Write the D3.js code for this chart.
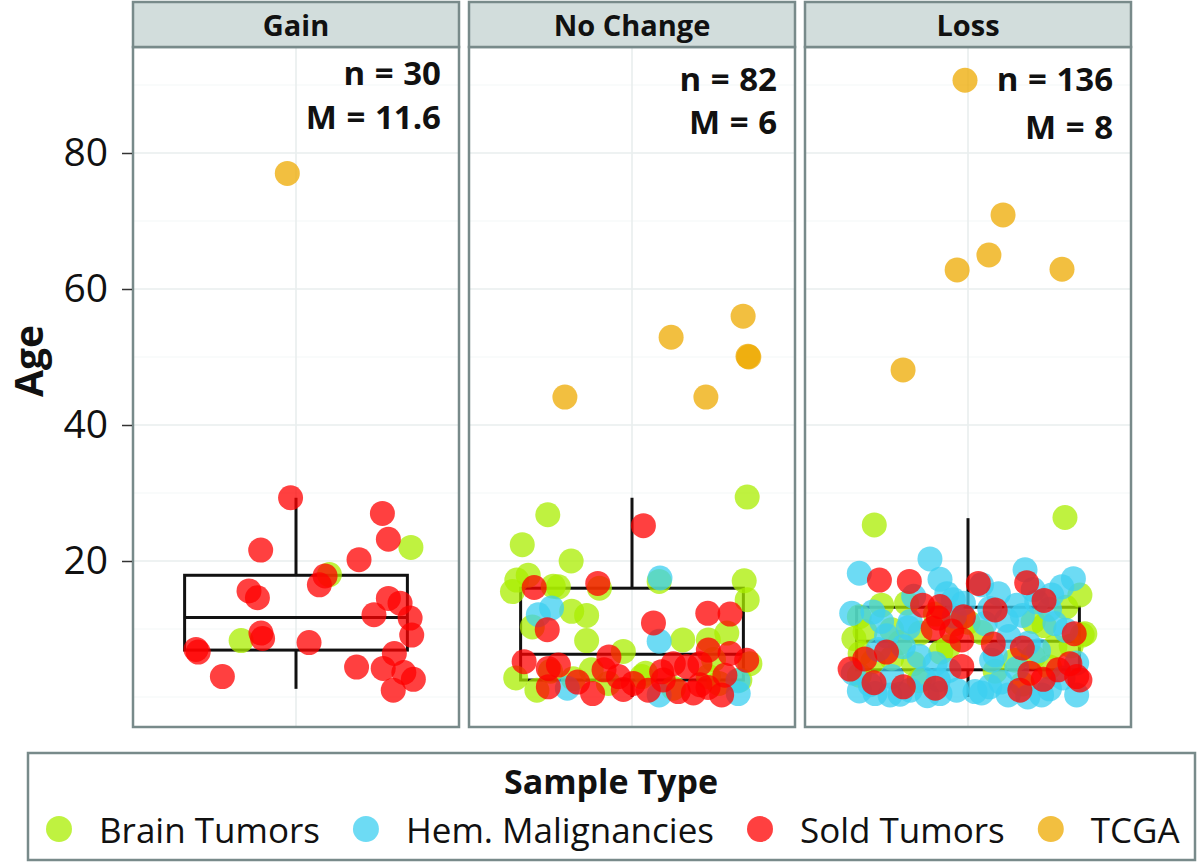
<!DOCTYPE html>
<html>
<head>
<meta charset="utf-8">
<script src="https://cdn.jsdelivr.net/npm/d3@7"></script>
<style>
  html, body { margin: 0; padding: 0; background: #ffffff; }
  svg { display: block; font-family: "Open Sans", "Noto Sans", sans-serif; }
</style>
</head>
<body>
<svg id="chart" width="1200" height="865"></svg>
<script>
// ---------------- DATA ----------------
const panels = ["Gain", "No Change", "Loss"];
const sampleTypes = ["Brain Tumors", "Hem. Malignancies", "Sold Tumors", "TCGA"];
const typeColors = ["#aaee00", "#3ccff0", "#ff0000", "#eeaa00"];
const yTicks = [20, 40, 60, 80];
const yMinor = [0, 10, 30, 50, 70, 90];
const nLabels = ["n = 30", "n = 82", "n = 136"];
const mLabels = ["M = 11.6", "M = 6", "M = 8"];

// box statistics per panel (Age)
const boxLower = [1.2, 0, 0];
const boxQ1 = [6.9, 2.5, 4.0];
const boxMedian = [11.7, 6.3, 8.2];
const boxQ3 = [17.9, 16.0, 13.2];
const boxUpper = [29.3, 29.3, 26.3];

// points: [age, jitter]
const gainBrain = [[22.0,0.423],[18.0,0.123],[8.3,-0.202]];
const gainHem = [];
const gainSolid = [[29.3,-0.02],[27.0,0.318],[23.2,0.34],[21.6,-0.13],[20.2,0.232],[17.8,0.107],[16.5,0.086],[15.6,-0.173],[14.6,-0.142],[14.5,0.34],[13.8,0.383],[12.1,0.287],[11.6,0.42],[9.1,0.426],[9.4,-0.129],[8.6,-0.123],[8.0,0.048],[7.0,-0.368],[6.4,0.362],[4.4,0.223],[4.2,0.321],[3.6,0.397],[2.6,0.432],[3.0,-0.271],[1.0,0.358],[6.6,-0.36]];
const gainTCGA = [[77.0,-0.032]];

const ncBrain = [[29.4,0.424],[26.8,-0.31],[22.4,-0.404],[20.0,-0.224],[17.2,-0.424],[17.9,-0.382],[15.5,-0.44],[16.3,-0.29],[16.2,-0.271],[16.0,-0.12],[17.0,0.1],[17.1,0.413],[14.3,0.424],[12.6,-0.222],[12.0,-0.167],[10.3,-0.367],[8.3,-0.167],[8.4,0.187],[8.4,0.281],[9.4,0.349],[4.9,0.434],[2.8,-0.428],[2.7,-0.216],[6.7,-0.032],[2.0,-0.087],[3.0,0.036],[1.3,0.152],[3.0,0.281],[2.5,0.397],[1.0,-0.35],[3.5,0.05],[4.0,-0.15],[2.0,0.32],[5.5,0.3],[3.8,-0.3]];
const ncHem = [[17.5,0.103],[13.1,-0.296],[12.1,-0.345],[8.2,0.1],[1.3,-0.238],[0.3,0.1],[0.5,0.391],[2.4,0.39]];
const ncSolid = [[25.2,0.042],[16.1,-0.36],[16.7,-0.126],[9.9,-0.312],[10.9,0.079],[12.3,0.279],[12.2,0.361],[6.9,0.281],[6.4,0.361],[5.4,0.422],[5.2,-0.397],[4.2,-0.308],[4.7,-0.271],[1.5,-0.308],[0.5,-0.145],[5.9,-0.085],[4.0,-0.103],[1.1,-0.032],[2.0,0.005],[1.0,0.06],[3.7,0.109],[2.5,0.115],[4.5,0.201],[0.6,0.226],[3.2,0.342],[0.3,0.33],[4.9,0.152],[4.9,0.25],[2.2,-0.2],[1.8,0.25],[0.8,0.17],[3.0,-0.05],[1.4,0.28]];
const ncTCGA = [[44.1,-0.247],[52.9,0.144],[44.1,0.272],[56.0,0.409],[50.1,0.427],[50.0,0.43]];

const lossBrain = [[25.3,-0.345],[26.4,0.357],[13.5,-0.318],[13.8,-0.226],[9.6,-0.379],[9.9,-0.281],[9.4,-0.177],[6.4,-0.397],[5.7,-0.281],[7.4,-0.072],[10.8,-0.048],[4.9,-0.201],[15.0,0.412],[11.1,0.24],[9.3,0.43],[7.4,0.32],[5.4,0.173],[11.8,-0.40],[8.0,-0.25],[5.2,-0.35],[3.8,0.10],[9.5,0.05],[12.2,-0.12],[7.5,0.38],[2.4,-0.18],[10.5,0.28],[6.6,-0.10],[4.4,0.30],[13.2,0.36],[8.6,-0.42],[1.9,0.20],[11.0,0.00],[5.9,0.24],[3.2,-0.40],[9.1,0.42]];
const lossHem = [[20.3,-0.14],[18.2,-0.4],[17.3,-0.103],[15.2,-0.078],[12.3,-0.428],[11.1,-0.318],[11.1,-0.213],[7.4,-0.238],[4.9,-0.121],[2.5,-0.109],[0.5,-0.342],[0.3,-0.287],[1.0,-0.213],[0.5,-0.103],[1.0,-0.042],[14.3,-0.054],[13.8,-0.017],[3.5,-0.422],[2.7,-0.164],[18.7,0.21],[15.2,0.112],[17.4,0.388],[16.2,0.345],[15.0,0.308],[13.5,0.179],[14.0,0.253],[11.3,0.142],[10.8,0.32],[7.9,0.222],[5.4,0.087],[0.3,0.148],[0.3,0.271],[0.3,0.4],[0.8,0.026],[10.8,0.063],[12.5,-0.35],[9.0,-0.30],[6.0,-0.18],[3.0,-0.28],[1.8,-0.36],[0.2,-0.15],[0.6,0.05],[2.2,0.12],[4.2,0.18],[6.8,0.26],[9.8,0.36],[12.9,0.30],[15.8,0.24],[13.0,0.08],[11.9,-0.05],[8.9,0.15],[3.9,-0.07],[1.2,0.30],[0.0,0.22],[0.4,-0.25],[5.0,0.40],[14.8,-0.20],[16.5,0.05],[7.0,-0.33],[2.8,0.35],[10.2,-0.22],[1.5,0.08],[0.9,-0.40],[12.0,0.20],[6.2,0.10]];
const lossSolid = [[17.2,-0.326],[17.0,-0.216],[13.5,-0.167],[13.3,-0.103],[11.6,-0.109],[10.1,-0.128],[4.1,-0.434],[2.1,-0.346],[1.5,-0.238],[11.8,-0.017],[8.4,-0.023],[4.5,-0.023],[16.8,0.216],[16.7,0.038],[9.3,0.391],[7.8,0.093],[3.5,0.228],[2.6,0.277],[4.0,0.332],[4.9,0.375],[2.5,0.412],[1.0,0.191],[12.8,0.10],[6.6,-0.30],[3.0,0.40],[9.7,-0.06],[1.3,-0.12],[14.2,0.28],[7.2,0.20],[5.6,-0.38]];
const lossTCGA = [[90.7,-0.011],[62.8,-0.04],[65.0,0.077],[70.9,0.129],[62.9,0.346],[48.1,-0.239]];

// per panel, per type (order: Brain, Hem, Solid, TCGA)
const panelPoints = [
  [gainBrain, gainHem, gainSolid, gainTCGA],
  [ncBrain, ncHem, ncSolid, ncTCGA],
  [lossBrain, lossHem, lossSolid, lossTCGA]
];

// ---------------- LAYOUT ----------------
const svg = d3.select("#chart");
const panelLeft0 = 133, panelW = 326, panelGap = 10;
const stripTop = 2, panelTop = 47, panelBottom = 727;
const borderColor = "#788a8a";
const stripFill = "#d2dddc";
const gridMajor = "#e9eeee";
const gridMinor = "#f4f7f7";
const ptRadius = 12.5;
const ptOpacity = 0.75;

const y = d3.scaleLinear().domain([0, 80]).range([697, 153]);

// per-panel label baselines (pixels)
const nBase = [85, 90.5, 91];
const mBase = [128.5, 134, 139];

panels.forEach((name, i) => {
  const left = panelLeft0 + i * (panelW + panelGap);
  const x = d3.scaleLinear().domain([-0.6, 0.6]).range([left, left + panelW]);
  const g = svg.append("g");

  g.append("rect").attr("x", left).attr("y", panelTop).attr("width", panelW)
    .attr("height", panelBottom - panelTop).attr("fill", "#ffffff");

  g.selectAll(".gmin").data(yMinor).enter().append("line")
    .attr("x1", left).attr("x2", left + panelW)
    .attr("y1", d => y(d)).attr("y2", d => y(d))
    .attr("stroke", gridMinor).attr("stroke-width", 1.2);
  g.selectAll(".gmaj").data(yTicks).enter().append("line")
    .attr("x1", left).attr("x2", left + panelW)
    .attr("y1", d => y(d)).attr("y2", d => y(d))
    .attr("stroke", gridMajor).attr("stroke-width", 1.6);
  g.append("line").attr("x1", x(0)).attr("x2", x(0))
    .attr("y1", panelTop).attr("y2", panelBottom)
    .attr("stroke", gridMajor).attr("stroke-width", 1.6);

  // boxplot
  const bx0 = x(-0.41), bx1 = x(0.41);
  const box = g.append("g").attr("stroke", "#111").attr("stroke-width", 3).attr("fill", "none");
  box.append("line").attr("x1", x(0)).attr("x2", x(0)).attr("y1", y(boxQ3[i])).attr("y2", y(boxUpper[i]));
  box.append("line").attr("x1", x(0)).attr("x2", x(0)).attr("y1", y(boxQ1[i])).attr("y2", y(boxLower[i]));
  box.append("rect").attr("x", bx0).attr("y", y(boxQ3[i]))
    .attr("width", bx1 - bx0).attr("height", y(boxQ1[i]) - y(boxQ3[i]));
  box.append("line").attr("x1", bx0).attr("x2", bx1).attr("y1", y(boxMedian[i])).attr("y2", y(boxMedian[i]));

  // points
  panelPoints[i].forEach((pts, t) => {
    g.selectAll(".p" + t).data(pts).enter().append("circle")
      .attr("cx", d => x(d[1])).attr("cy", d => y(d[0]))
      .attr("r", ptRadius).attr("fill", typeColors[t]).attr("fill-opacity", ptOpacity);
  });

  // n / M labels
  [[nLabels[i], nBase[i]], [mLabels[i], mBase[i]]].forEach(([txt, by]) => {
    g.append("text").attr("x", left + panelW - 18).attr("y", by)
      .attr("text-anchor", "end").attr("font-size", 33).attr("font-weight", 700)
      .attr("word-spacing", 1).attr("fill", "#111").text(txt);
  });

  g.append("rect").attr("x", left).attr("y", panelTop).attr("width", panelW)
    .attr("height", panelBottom - panelTop).attr("fill", "none")
    .attr("stroke", borderColor).attr("stroke-width", 2.5);

  g.append("rect").attr("x", left).attr("y", stripTop).attr("width", panelW)
    .attr("height", panelTop - stripTop).attr("fill", stripFill)
    .attr("stroke", borderColor).attr("stroke-width", 2.5);
  g.append("text").attr("x", left + panelW / 2).attr("y", 36)
    .attr("text-anchor", "middle").attr("font-size", 29).attr("font-weight", 700)
    .attr("fill", "#111").text(name);
});

// y axis
const yAxis = d3.axisLeft(y).tickValues(yTicks).tickSize(10).tickPadding(14).tickFormat(d3.format("d"));
const ya = svg.append("g").attr("transform", `translate(${panelLeft0 - 1},0)`).call(yAxis);
ya.select(".domain").remove();
ya.selectAll(".tick line").attr("stroke", "#333").attr("stroke-width", 1.5);
ya.selectAll(".tick text").attr("font-size", 39).attr("fill", "#111")
  .attr("font-family", "'Open Sans', sans-serif");

svg.append("text").attr("transform", "translate(43,361) rotate(-90)")
  .attr("text-anchor", "middle").attr("font-size", 39).attr("font-weight", 700)
  .attr("fill", "#111").text("Age");

// legend
const lg = svg.append("g");
lg.append("rect").attr("x", 28).attr("y", 753).attr("width", 1167).attr("height", 107)
  .attr("fill", "#fff").attr("stroke", borderColor).attr("stroke-width", 2.5);
lg.append("text").attr("x", 611).attr("y", 794).attr("text-anchor", "middle")
  .attr("font-size", 34).attr("font-weight", 700).attr("fill", "#111").text("Sample Type");
const keyGap = 40, itemGap = 46;
let cursor = 59;
sampleTypes.forEach((s, t) => {
  lg.append("circle").attr("cx", cursor).attr("cy", 829).attr("r", 13)
    .attr("fill", typeColors[t]).attr("fill-opacity", ptOpacity);
  const tx = lg.append("text").attr("x", cursor + keyGap).attr("y", 843)
    .attr("font-size", 35).attr("fill", "#111").text(s);
  cursor = cursor + keyGap + tx.node().getComputedTextLength() + itemGap;
});
</script>
</body>
</html>
